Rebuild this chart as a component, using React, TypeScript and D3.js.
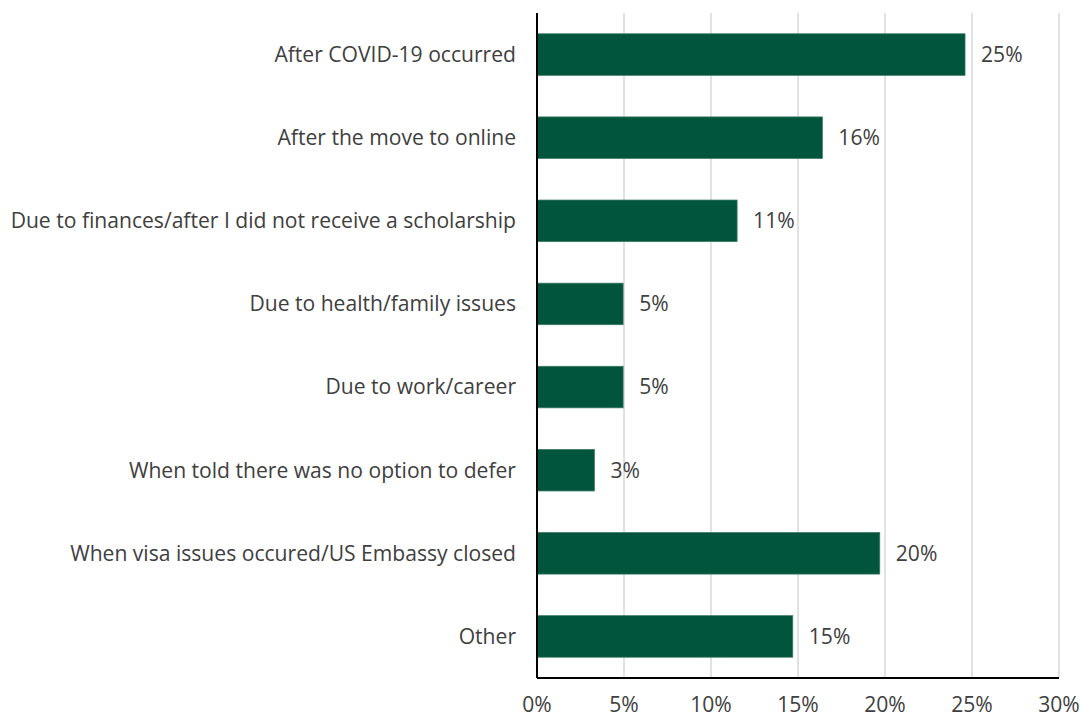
import React from "react";
import * as d3 from "d3";

const categories = [
  "After COVID-19 occurred",
  "After the move to online",
  "Due to finances/after I did not receive a scholarship",
  "Due to health/family issues",
  "Due to work/career",
  "When told there was no option to defer",
  "When visa issues occured/US Embassy closed",
  "Other",
];
const values = [24.6, 16.4, 11.5, 4.95, 4.95, 3.3, 19.7, 14.7];
const valueLabels = ["25%", "16%", "11%", "5%", "5%", "3%", "20%", "15%"];
const ticks = [0, 5, 10, 15, 20, 25, 30];

const W = 1082;
const H = 717;
const left = 537;
const right = 1059;
const top = 13;
const bottom = 678;
const FONT = "'Open Sans', sans-serif";
const FS = 21.1;

export default function App() {
  const x = d3.scaleLinear().domain([0, 30]).range([left, right]);
  const y = d3.scaleBand().domain(categories).range([top, bottom]).paddingInner(0.5).paddingOuter(0.25);
  return (
    <svg width={W} height={H} style={{ position: "absolute", left: 0, top: 0, background: "#fff" }}>
      {ticks.slice(1).map((t) => (
        <line key={t} x1={x(t)} x2={x(t)} y1={top} y2={bottom} stroke="#d9d9d9" strokeWidth={1.5} />
      ))}
      {categories.map((c, i) => (
        <g key={c}>
          <rect x={x(0)} y={y(c)!} width={x(values[i]) - x(0)} height={y.bandwidth()} fill="#02553d" stroke="#3d7a64" strokeWidth={0.75} />
          <text x={left - 21} y={y(c)! + y.bandwidth() / 2} dy="0.35em" textAnchor="end" fontFamily={FONT} fontSize={FS} fill="#404040">
            {c}
          </text>
          <text x={x(values[i]) + 16} y={y(c)! + y.bandwidth() / 2} dy="0.35em" textAnchor="start" fontFamily={FONT} fontSize={FS} fill="#404040">
            {valueLabels[i]}
          </text>
        </g>
      ))}
      <line x1={left} x2={left} y1={top} y2={bottom} stroke="#000" strokeWidth={2} />
      <line x1={left} x2={right} y1={bottom} y2={bottom} stroke="#000" strokeWidth={2} />
      {ticks.map((t) => (
        <text key={t} x={x(t)} y={705} dy="0.35em" textAnchor="middle" fontFamily={FONT} fontSize={FS} fill="#404040">
          {t}%
        </text>
      ))}
    </svg>
  );
}
